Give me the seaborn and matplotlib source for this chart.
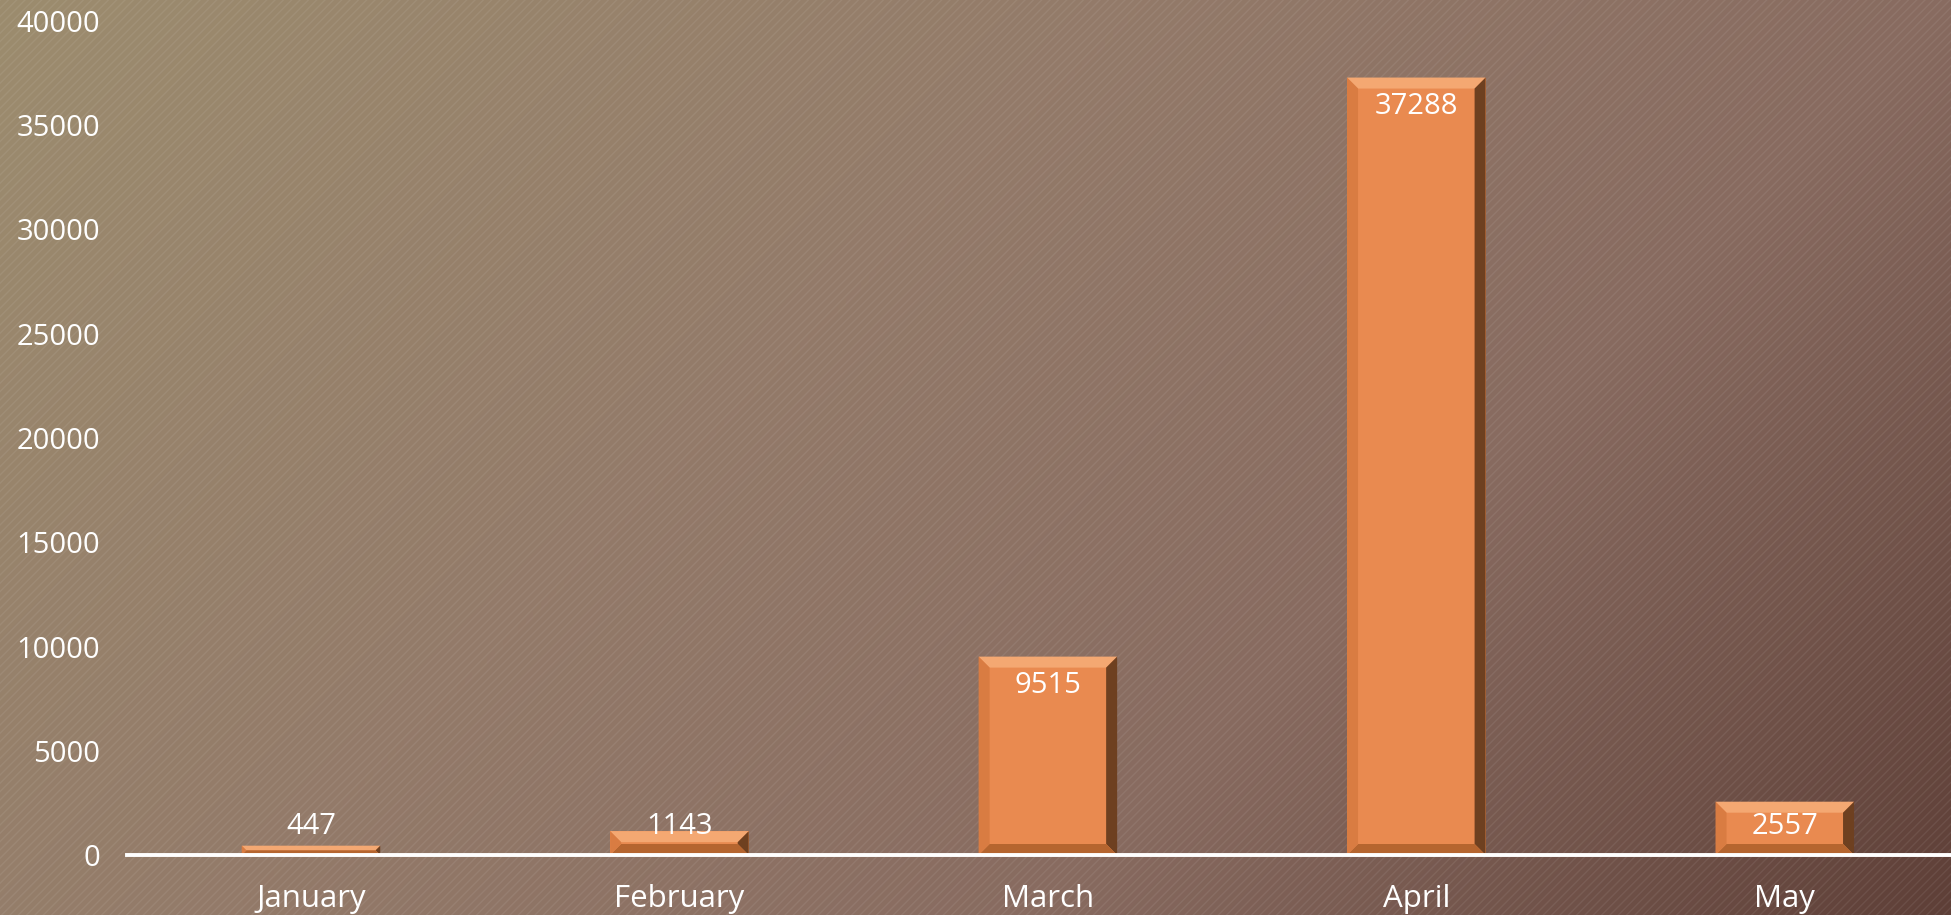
import numpy as np
import pandas as pd
import seaborn as sns
import matplotlib.pyplot as plt
from matplotlib.colors import LinearSegmentedColormap
from matplotlib.patches import Polygon, Rectangle
from matplotlib.transforms import IdentityTransform

months = ["January", "February", "March", "April", "May"]
counts = [447, 1143, 9515, 37288, 2557]
yticks = [0, 5000, 10000, 15000, 20000, 25000, 30000, 35000, 40000]

sns.set_theme(style="white")
plt.rcParams['font.family'] = ['Open Sans', 'DejaVu Sans']
plt.rcParams['hatch.linewidth'] = 1.0

W, H = 1951, 915
fig = plt.figure(figsize=(W / 100, H / 100), dpi=100)

# background: diagonal gradient + fine stripes
bg = fig.add_axes([0, 0, 1, 1])
bg.axis('off')
cmap = LinearSegmentedColormap.from_list(
    "bg", [(0, "#9c8c6e"), (0.4, "#937a69"), (0.68, "#886b60"), (1, "#5e3f37")])
yy, xx = np.mgrid[0:H, 0:W]
bg.imshow((xx + yy) / (W + H), cmap=cmap, aspect='auto', extent=[0, 1, 0, 1])
bg.add_patch(Rectangle((0, 0), 1, 1, transform=bg.transAxes, facecolor='none',
                       edgecolor=(1, 1, 1, 0.07), lw=0, hatch='////'))
bg.set_xlim(0, 1)
bg.set_ylim(0, 1)

# plot area runs a little past the right edge of the picture
left, right, top, base = 126.75, 1969, 21, 855
ax = fig.add_axes([left / W, (H - base) / H, (right - left) / W, (base - top) / H])
ax.patch.set_alpha(0)

df = pd.DataFrame({'month': months, 'count': counts})
sns.barplot(data=df, x='month', y='count', color='#e98a50', saturation=1,
            width=0.376, linewidth=0, ax=ax)
ax.set_xlim(-0.5, len(months) - 0.5)
ax.set_ylim(0, 40000)
ax.set_yticks(yticks)
ax.set_xlabel('')
ax.set_ylabel('')
for s in ['left', 'right', 'top']:
    ax.spines[s].set_visible(False)
ax.spines['bottom'].set_color('white')
ax.spines['bottom'].set_linewidth(2.8)
ax.spines['bottom'].set_zorder(5)
ax.tick_params(axis='both', colors='white', length=0)
ax.tick_params(axis='y', pad=19, labelsize=21)
ax.tick_params(axis='x', pad=21, labelsize=22.5)

# bevel edges on the bars
for p in ax.patches:
    (L, B), (R, T) = ax.transData.transform(
        [(p.get_x(), p.get_y()), (p.get_x() + p.get_width(), p.get_y() + p.get_height())])
    b = min(11, (T - B) / 2)
    faces = [
        ([(L, T), (R, T), (R - b, T - b), (L + b, T - b)], '#f4a872'),
        ([(R, T), (R, B), (R - b, B + b), (R - b, T - b)], '#6e4020'),
        ([(L, B), (R, B), (R - b, B + b), (L + b, B + b)], '#b5652f'),
        ([(L, B), (L, T), (L + b, T - b), (L + b, B + b)], '#d97c42'),
    ]
    for pts, c in faces:
        ax.add_patch(Polygon(pts, closed=True, facecolor=c, lw=0,
                             transform=IdentityTransform(), zorder=3))

# value labels
upp = 40000 / (base - top)
for i, v in enumerate(counts):
    ax.text(i, max(v - 29 * upp, 28 * upp), str(v), ha='center', va='center',
            color='white', fontsize=21, zorder=6)

fig.savefig("out.png", dpi=100)
